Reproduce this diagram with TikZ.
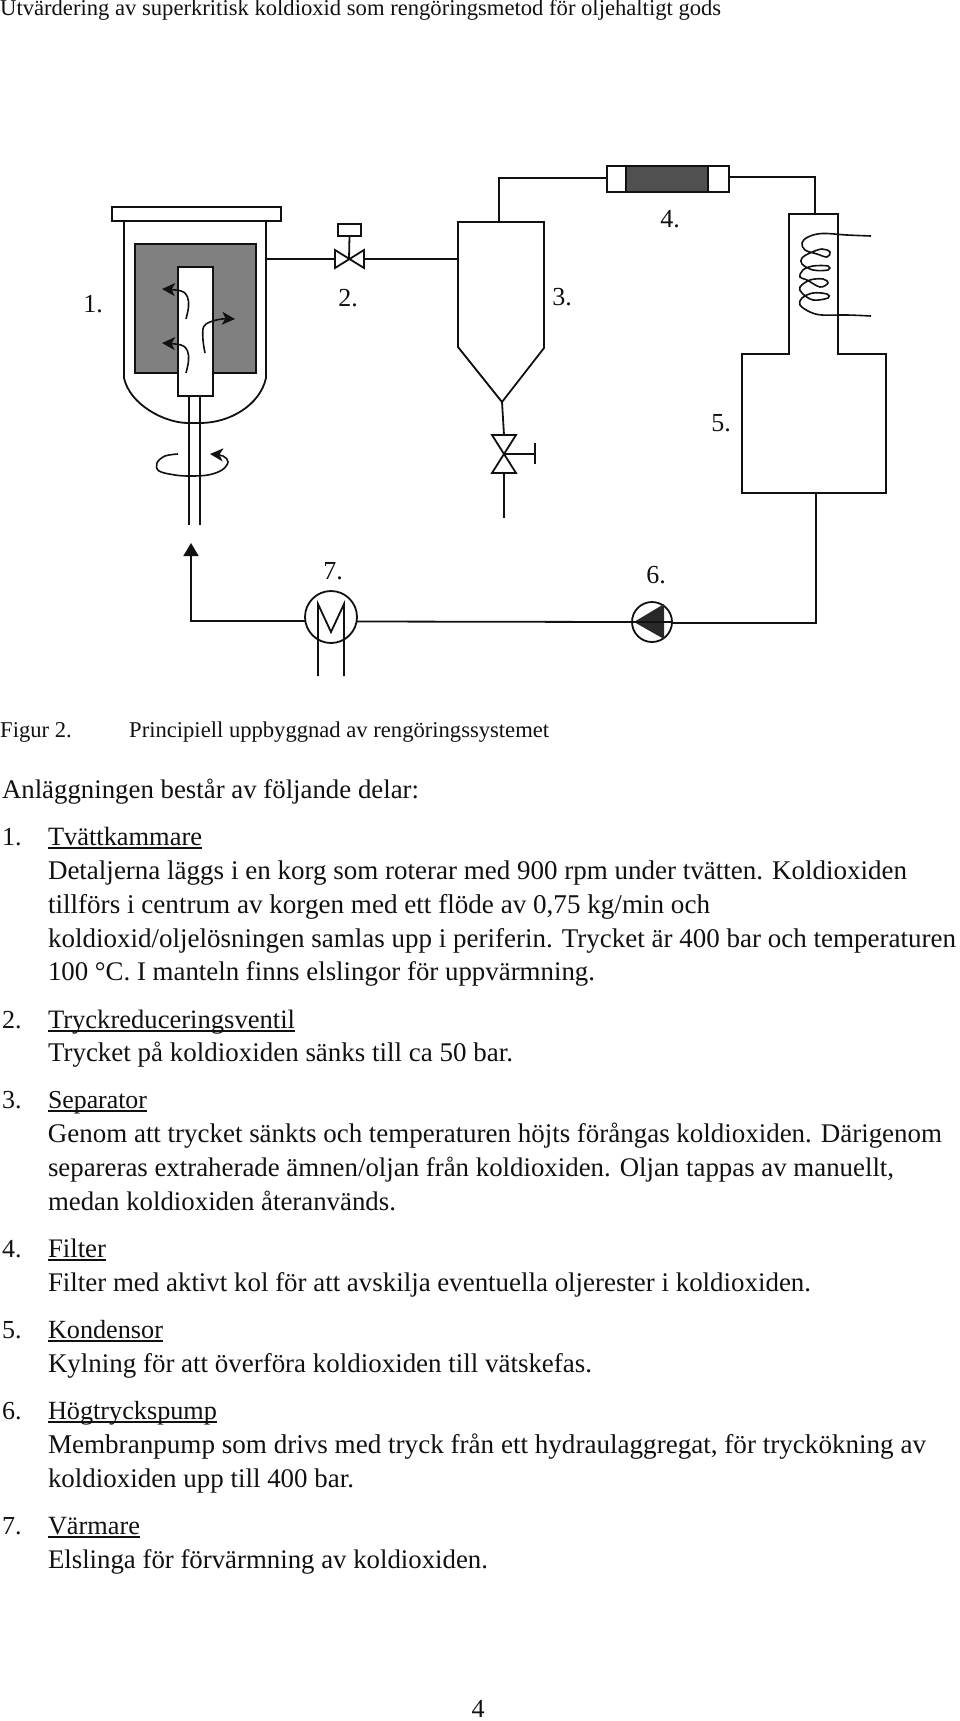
\documentclass[tikz,border=0pt]{standalone}
\usepackage{fontspec}
\setmainfont{Liberation Serif}
\usetikzlibrary{arrows.meta}
\newsavebox\ulbox
\newcommand\ulin[1]{\sbox\ulbox{#1}\rlap{\rule[-3.6pt]{\wd\ulbox}{1.3pt}}\usebox\ulbox}
\newcommand\fit[2]{\resizebox{#1pt}{!}{#2}}
\tikzset{
  x=1pt,y=-1pt,
  ln/.style={line width=1.8pt,draw=ink,line join=miter},
  txt/.style={anchor=base west,inner sep=0pt,outer sep=0pt,text=ink,font=\fontsize{26}{30}\selectfont},
  lab/.style={anchor=base,inner sep=0pt,text=ink,font=\fontsize{26}{28}\selectfont},
  captxt/.style={anchor=base west,inner sep=0pt,text=ink,font=\fontsize{22.6}{26}\selectfont},
  box/.style={ln,anchor=north west,inner sep=0pt,outer sep=0pt},
  tip/.style={-{Stealth[length=13pt,width=13pt,inset=3.5pt]}},
  wob/.style={line width=1.6pt,draw=ink,smooth,tension=0.6},
}
\definecolor{ink}{HTML}{111111}
\definecolor{basket}{HTML}{808080}
\definecolor{filt}{HTML}{505050}
\begin{document}
\begin{tikzpicture}
\useasboundingbox (0,0) rectangle (960,1721);
\fill[white] (0,0) rectangle (960,1721);

% --- chamber
\draw[ln] (124,221) -- (124,378) .. controls (130,405) and (165,423) .. (188,423) -- (200,423) .. controls (230,423) and (260,405) .. (266,378) -- (266,221);
\node[box,minimum width=169pt,minimum height=14pt] (lid) at (112,207) {};
\node[box,fill=basket,minimum width=121pt,minimum height=129pt] (basket) at (135,244) {};
\node[box,fill=white,minimum width=35pt,minimum height=129pt] (core) at (178,267) {};
\coordinate (shL) at (189,396); \coordinate (shLe) at (189,525);
\coordinate (shR) at (200,396); \coordinate (shRe) at (200,525);
\draw[ln] (shL) -- (shLe);
\draw[ln] (shR) -- (shRe);
\draw[wob,tip] plot coordinates {(186,319) (188.5,307) (187.5,297) (181,291) (162,289)};
\draw[wob,tip] plot coordinates {(186,373) (188.5,361) (187.5,351) (181,345) (162,343)};
\draw[wob,tip] plot coordinates {(205,353) (203,340) (203.5,327) (210,322) (222,319) (235,319)};
\draw[wob,tip] plot coordinates {(178,454) (165,456) (157,463) (159,471) (175,475) (190,476) (208,475) (222,470) (228,462) (223,456) (210,454)};

% --- valve 2
\coordinate (chOut) at (266,259);
\coordinate (v2L) at (335,259); \coordinate (v2R) at (364,259); \coordinate (v2C) at (349,259);
\draw[ln] (335,250) -- (335,268) -- (364,250) -- (364,268) -- cycle;
\node[box,minimum width=23pt,minimum height=12pt] (v2box) at (338,224) {};
\draw[ln] (v2box.south) -- (v2C);
\draw[ln] (chOut) -- (v2L);
\coordinate (sepIn) at (458,259);
\draw[ln] (v2R) -- (sepIn);

% --- separator
\draw[ln] (458,222) -- (544,222) -- (544,348) -- (502,402) -- (458,347) -- cycle;
\coordinate (sepTip) at (502,402);
\coordinate (v3T) at (504,435); \coordinate (v3C) at (504,454); \coordinate (v3B) at (504,473);
\coordinate (v3H) at (535,454); \coordinate (drain) at (504,518);
\draw[ln] (sepTip) -- (v3T);
\draw[ln] (492,435) -- (516,435) -- (492,473) -- (516,473) -- cycle;
\draw[ln] (v3C) -- (v3H);
\draw[ln] (535,443) -- (535,464);
\draw[ln] (v3B) -- (drain);

% --- filter
\node[box,fill=white,minimum width=122pt,minimum height=26pt] (filter) at (607,166) {};
\node[box,fill=filt,minimum width=82pt,minimum height=26pt] (carbon) at (626,166) {};
\coordinate (sepOut) at (499,222);
\draw[ln] (sepOut) -- (499,178) -- (filter.west |- 0,178);
\coordinate (condIn) at (815,214);
\draw[ln] (filter.east |- 0,177) -- (815,177) -- (condIn);

% --- condenser
\draw[ln] (789,214) -- (838,214) -- (838,354) -- (886,354) -- (886,493) -- (742,493) -- (742,354) -- (789,354) -- cycle;
\draw[wob] plot coordinates {(871,236) (847,235) (822,233.5) (808,237) (802,243) (805,250) (817,254) (827,257) (830,252) (822,249) (810,253) (802,258) (802,264) (813,270) (828,270) (828,266) (813,266) (803,270) (800,277) (807,280) (820,287) (828,283) (823,279) (810,280) (800,287) (802,293) (813,300) (828,298) (827,294) (813,293) (802,298) (800,305) (810,312) (822,315) (847,315) (871,316)};

% --- return line
\coordinate (condOut) at (816,493);
\node[circle,ln,minimum size=40pt,inner sep=0pt,outer sep=0pt] (pump) at (652,622) {};
\node[circle,ln,minimum size=52pt,inner sep=0pt,outer sep=0pt] (heater) at (331,617) {};
\draw[ln] (condOut) -- (816,623) -- (pump.east |- 0,623);
\fill[ink!90] (634,622) -- (664,604) -- (664,639) -- cycle;
\draw[ln] (pump.west) -- (pump.east);
\draw[ln] (pump.west) -- (heater.east |- 0,621.5);
\coordinate (inlet) at (191,543);
\draw[ln,-{Triangle[length=13pt,width=15pt]}] (heater.west |- 0,621) -- (191,621) -- (inlet);
\coordinate (mA) at (318,676); \coordinate (mB) at (344,676);
\draw[ln] (mA) -- (318,604) -- (331,632) -- (344,604) -- (mB);

% --- labels
\node[lab] (l1) at (93,312) {1.};
\node[lab] (l2) at (348,306) {2.};
\node[lab] (l3) at (562,305) {3.};
\node[lab] (l4) at (670,227) {4.};
\node[lab] (l5) at (721,431) {5.};
\node[lab] (l6) at (656,583) {6.};
\node[lab] (l7) at (333,579) {7.};

% --- text
\node[captxt] (title) at (0,16) {\fit{721}{Utvärdering av superkritisk koldioxid som rengöringsmetod för oljehaltigt gods}};
\node[captxt] (figno) at (0,737) {Figur 2.};
\node[captxt] (figcap) at (129,737) {Principiell uppbyggnad av rengöringssystemet};
\node[txt] (t0) at (2,798) {\fit{417}{Anläggningen består av följande delar:}};
\node[txt] (n1) at (2,845) {1.};
\node[txt] (h1) at (48,845) {\fit{154}{\ulin{Tvättkammare}}};
\node[txt] (a1) at (48,879) {\fit{859}{Detaljerna läggs i en korg som roterar med 900 rpm under tvätten. Koldioxiden}};
\node[txt] (a2) at (48,913) {\fit{662}{tillförs i centrum av korgen med ett flöde av 0,75 kg/min och}};
\node[txt] (a3) at (48,947) {\fit{908}{koldioxid/oljelösningen samlas upp i periferin. Trycket är 400 bar och temperaturen}};
\node[txt] (a4) at (48,980) {\fit{547}{100 °C. I manteln finns elslingor för uppvärmning.}};
\node[txt] (n2) at (2,1028) {2.};
\node[txt] (h2) at (48,1028) {\fit{247}{\ulin{Tryckreduceringsventil}}};
\node[txt] (b1) at (48,1061) {\fit{465}{Trycket på koldioxiden sänks till ca 50 bar.}};
\node[txt] (n3) at (2,1108) {3.};
\node[txt] (h3) at (48,1108) {\fit{99}{\ulin{Separator}}};
\node[txt] (c1) at (48,1142) {\fit{894}{Genom att trycket sänkts och temperaturen höjts förångas koldioxiden. Därigenom}};
\node[txt] (c2) at (48,1176) {\fit{846}{separeras extraherade ämnen/oljan från koldioxiden. Oljan tappas av manuellt,}};
\node[txt] (c3) at (48,1210) {\fit{348}{medan koldioxiden återanvänds.}};
\node[txt] (n4) at (2,1257) {4.};
\node[txt] (h4) at (48,1257) {\fit{58}{\ulin{Filter}}};
\node[txt] (d1) at (48,1291) {\fit{763}{Filter med aktivt kol för att avskilja eventuella oljerester i koldioxiden.}};
\node[txt] (n5) at (2,1338) {5.};
\node[txt] (h5) at (48,1338) {\fit{115}{\ulin{Kondensor}}};
\node[txt] (e1) at (48,1372) {\fit{544}{Kylning för att överföra koldioxiden till vätskefas.}};
\node[txt] (n6) at (2,1419) {6.};
\node[txt] (h6) at (48,1419) {\fit{169}{\ulin{Högtryckspump}}};
\node[txt] (f1) at (48,1453) {\fit{878}{Membranpump som drivs med tryck från ett hydraulaggregat, för tryckökning av}};
\node[txt] (f2) at (48,1487) {\fit{306}{koldioxiden upp till 400 bar.}};
\node[txt] (n7) at (2,1534) {7.};
\node[txt] (h7) at (48,1534) {\fit{92}{\ulin{Värmare}}};
\node[txt] (g1) at (48,1568) {\fit{440}{Elslinga för förvärmning av koldioxiden.}};
\node[lab] (pg) at (478,1717) {4};
\end{tikzpicture}
\end{document}
